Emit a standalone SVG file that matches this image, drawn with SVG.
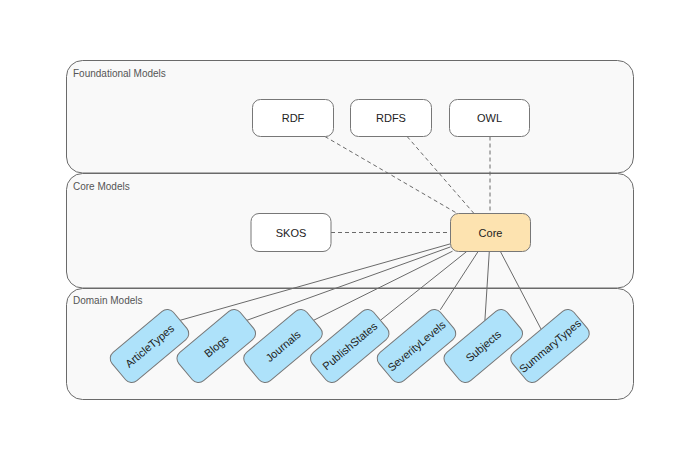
<svg xmlns="http://www.w3.org/2000/svg" width="700" height="460" viewBox="0 0 700 460">
<style>
.lane{fill:#f9f9f9;stroke:#6a6a6a;stroke-width:1}
.lt{font-family:"Liberation Sans",Arial,sans-serif;font-size:10px;fill:#555}
.n{stroke:#777;stroke-width:1}
.w{fill:#ffffff}
.core{fill:#fde3b0}
.d{fill:#aee2fa}
.t{font-family:"Liberation Sans",Arial,sans-serif;font-size:11px;fill:#222;text-anchor:middle}
.dash{stroke:#6a6a6a;stroke-width:1;stroke-dasharray:4,3;fill:none}
.sol{stroke:#6a6a6a;stroke-width:1;fill:none}
</style>
<rect width="700" height="460" fill="#ffffff"/>
<g id="lane-foundational">
<rect class="lane" x="66.5" y="60.5" width="567" height="112.5" rx="16"/>
<text class="lt" x="73" y="77">Foundational Models</text>
</g>
<g id="lane-core">
<rect class="lane" x="66.5" y="173.5" width="567" height="114.5" rx="16"/>
<text class="lt" x="73" y="190">Core Models</text>
</g>
<g id="lane-domain">
<rect class="lane" x="66.5" y="288.5" width="567" height="111" rx="16"/>
<text class="lt" x="73" y="304">Domain Models</text>
</g>
<g id="connectors">
<line class="dash" x1="324.9" y1="136.5" x2="457.9" y2="213.8"/>
<line class="dash" x1="407.1" y1="136.5" x2="474" y2="213.5"/>
<line class="dash" x1="490" y1="136.5" x2="490" y2="213.5"/>
<line class="dash" x1="331" y1="232.5" x2="450.5" y2="232.5"/>
<line class="sol" x1="450.5" y1="243.8" x2="180.1" y2="320.3"/>
<line class="sol" x1="450.5" y1="246.9" x2="246.9" y2="320.3"/>
<line class="sol" x1="452.5" y1="251.2" x2="313.6" y2="320.3"/>
<line class="sol" x1="466.7" y1="251.5" x2="380.4" y2="320.3"/>
<line class="sol" x1="478.1" y1="251.5" x2="440.3" y2="309.8"/>
<line class="sol" x1="489.3" y1="251.5" x2="484.9" y2="320.5"/>
<line class="sol" x1="500.4" y1="251.5" x2="541" y2="329"/>
</g>
<g id="RDF">
<rect class="n w" x="252.5" y="99.5" width="81" height="37" rx="8"/>
<text class="t" x="293" y="122">RDF</text>
</g>
<g id="RDFS">
<rect class="n w" x="350.5" y="99.5" width="81" height="37" rx="8"/>
<text class="t" x="391" y="122">RDFS</text>
</g>
<g id="OWL">
<rect class="n w" x="449.5" y="99.5" width="80" height="37" rx="8"/>
<text class="t" x="489.5" y="122">OWL</text>
</g>
<g id="SKOS">
<rect class="n w" x="251" y="213.5" width="80" height="38" rx="8"/>
<text class="t" x="291" y="236.5">SKOS</text>
</g>
<g id="Core">
<rect class="n core" x="450.5" y="213.5" width="80" height="38" rx="8"/>
<text class="t" x="490.5" y="236.5">Core</text>
</g>
<g id="ArticleTypes" transform="translate(149.5,346) rotate(-40)">
<rect class="n d" x="-40" y="-18.5" width="80" height="37" rx="8"/>
<text class="t" x="0" y="4">ArticleTypes</text>
</g>
<g id="Blogs" transform="translate(216.25,346) rotate(-40)">
<rect class="n d" x="-40" y="-18.5" width="80" height="37" rx="8"/>
<text class="t" x="0" y="4">Blogs</text>
</g>
<g id="Journals" transform="translate(283,346) rotate(-40)">
<rect class="n d" x="-40" y="-18.5" width="80" height="37" rx="8"/>
<text class="t" x="0" y="4">Journals</text>
</g>
<g id="PublishStates" transform="translate(349.75,346) rotate(-40)">
<rect class="n d" x="-40" y="-18.5" width="80" height="37" rx="8"/>
<text class="t" x="0" y="4">PublishStates</text>
</g>
<g id="SeverityLevels" transform="translate(416.5,346) rotate(-40)">
<rect class="n d" x="-40" y="-18.5" width="80" height="37" rx="8"/>
<text class="t" x="0" y="4">SeverityLevels</text>
</g>
<g id="Subjects" transform="translate(483.25,346) rotate(-40)">
<rect class="n d" x="-40" y="-18.5" width="80" height="37" rx="8"/>
<text class="t" x="0" y="4">Subjects</text>
</g>
<g id="SummaryTypes" transform="translate(550,346) rotate(-40)">
<rect class="n d" x="-40" y="-18.5" width="80" height="37" rx="8"/>
<text class="t" x="0" y="4">SummaryTypes</text>
</g>
</svg>
